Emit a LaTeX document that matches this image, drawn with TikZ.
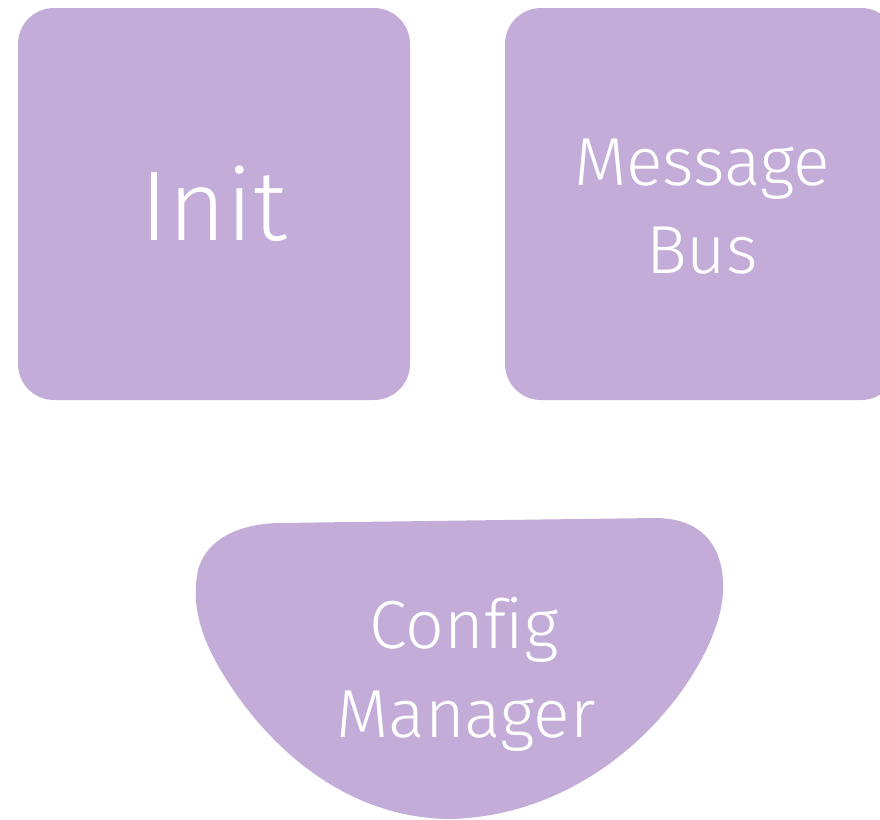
\documentclass[tikz,border=0pt]{standalone}
\usepackage{fontspec}
\setmainfont[Ligatures=NoCommon]{Fira Sans Light}
\definecolor{blockfill}{HTML}{C3ADD8}
\tikzset{
  block/.style={fill=blockfill, draw=none, rounded corners=36pt},
  label/.style={text=white, align=center, inner sep=0pt},
}
\begin{document}
\begin{tikzpicture}[x=1pt, y=-1pt]
  \useasboundingbox (0,0) rectangle (880,819);
  \clip (0,0) rectangle (880,819);
  % two rounded blocks on top
  \path[block] (18,8) rectangle (410,400);
  \path[block] (505,8) rectangle (897,400);
  % bowl-shaped block below
  \path[fill=blockfill] (278,523) -- (655,518)
    .. controls (705,518) and (725,550) .. (723,592)
    .. controls (720,665) and (615,815) .. (450,819)
    .. controls (330,818) and (250,725) .. (215,660)
    .. controls (198,628) and (192,600) .. (198,570)
    .. controls (208,535) and (245,524) .. (278,523) -- cycle;
  \node[label, font=\fontsize{99}{110}\selectfont, anchor=base] (init) at (214,240) {Init};
  \node[label, font=\fontsize{68}{88}\selectfont, anchor=base] (bus1) at (702,185) {Message};
  \node[label, font=\fontsize{68}{88}\selectfont, anchor=base] (bus2) at (702,273) {Bus};
  \node[label, font=\fontsize{68}{88}\selectfont, anchor=base] (cfg1) at (464,648) {Config};
  \node[label, font=\fontsize{68}{88}\selectfont, anchor=base] (cfg2) at (466,737) {Manager};
\end{tikzpicture}
\end{document}
